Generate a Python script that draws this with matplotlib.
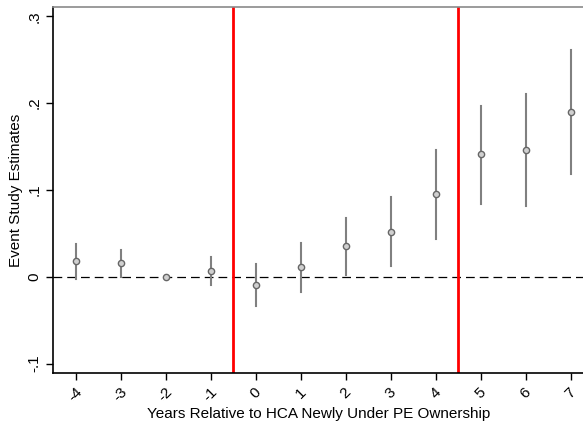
import numpy as np
import matplotlib.pyplot as plt

plt.rcParams['font.family'] = ['Liberation Sans', 'DejaVu Sans']

years = [-4, -3, -2, -1, 0, 1, 2, 3, 4, 5, 6, 7]
est = [0.018, 0.016, 0.0, 0.007, -0.009, 0.011, 0.036, 0.052, 0.095, 0.141, 0.146, 0.190]
ci_lo = [-0.003, 0.0, 0.0, -0.010, -0.034, -0.017, 0.002, 0.013, 0.043, 0.084, 0.082, 0.118]
ci_hi = [0.038, 0.031, 0.0, 0.023, 0.015, 0.039, 0.068, 0.092, 0.146, 0.197, 0.210, 0.261]
yticks = [-0.1, 0, 0.1, 0.2, 0.3]
ytick_labels = ['-.1', '0', '.1', '.2', '.3']

fig = plt.figure(figsize=(5.83, 4.26), dpi=100)
ax = fig.add_axes([0.091, 0.124, 0.912, 0.86])

ax.axhline(0, color='black', lw=0.9, ls=(0, (7, 4)), zorder=1)
ax.axvline(-0.5, color='#ff0000', lw=2, zorder=2)
ax.axvline(4.5, color='#ff0000', lw=2, zorder=2)

for x, lo, hi in zip(years, ci_lo, ci_hi):
    if hi > lo:
        ax.plot([x, x], [lo, hi], color='#808080', lw=1.5, zorder=3)
ax.plot(years, est, 'o', ms=4.5, mfc='#d0d0d0', mec='#666666', mew=1.0, zorder=4)

ax.set_xlim(-4.5, 7.31)
ax.set_ylim(-0.111, 0.311)
ax.set_xticks(years)
ax.set_xticklabels([str(y) for y in years], rotation=45, ha='center', va='top')
ax.set_yticks(yticks)
ax.set_yticklabels(ytick_labels, rotation=90, va='center')
ax.tick_params(labelsize=11, color='black', length=5, width=1)

ax.spines['left'].set_linewidth(1.2)
ax.spines['bottom'].set_linewidth(1.2)
ax.spines['top'].set_color('#8a8a8a')
ax.spines['top'].set_linewidth(1.2)
ax.spines['right'].set_visible(False)

ax.set_xlabel('Years Relative to HCA Newly Under PE Ownership', fontsize=11, labelpad=2)
ax.set_ylabel('Event Study Estimates', fontsize=11, labelpad=3)

fig.savefig('out.png', dpi=100)
